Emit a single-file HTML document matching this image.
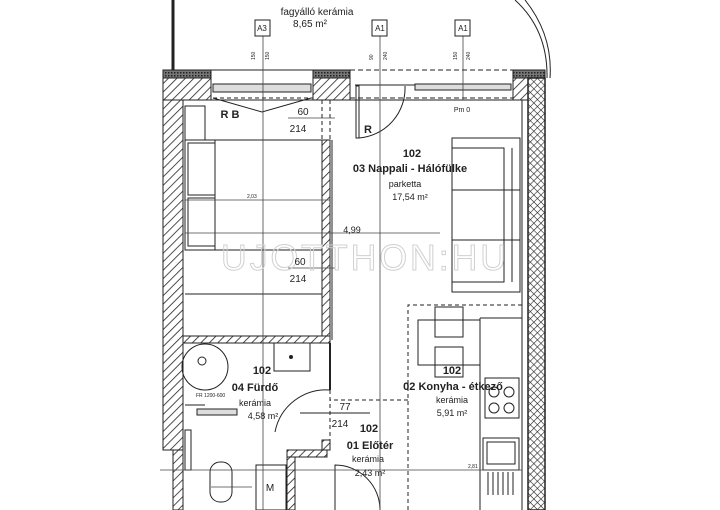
<!DOCTYPE html>
<html><head><meta charset="utf-8"><style>
html,body{margin:0;padding:0;background:#fff;width:720px;height:510px;overflow:hidden}
svg{display:block}
text{font-family:"Liberation Sans",sans-serif;fill:#222}
</style></head><body>
<svg width="720" height="510" viewBox="0 0 720 510" xmlns="http://www.w3.org/2000/svg">
<defs>
<pattern id="h" width="6" height="6" patternUnits="userSpaceOnUse" patternTransform="rotate(45)">
<rect width="6" height="6" fill="#fff"/><line x1="0" y1="0" x2="0" y2="6" stroke="#222" stroke-width="1.6"/></pattern>
<pattern id="x" width="5" height="5" patternUnits="userSpaceOnUse" patternTransform="rotate(45)">
<rect width="5" height="5" fill="#fff"/><line x1="0" y1="0" x2="0" y2="5" stroke="#222" stroke-width="1.2"/><line x1="0" y1="0" x2="5" y2="0" stroke="#222" stroke-width="1.2"/></pattern>
<pattern id="s" width="3" height="3" patternUnits="userSpaceOnUse"><rect width="3" height="3" fill="#777"/><rect width="1.5" height="1.5" fill="#222"/></pattern>
</defs>
<g stroke="#222" fill="none" stroke-width="1">
<line x1="173" y1="0" x2="173" y2="72" stroke-width="3"/>
<path d="M515 0 Q548 30 547 78"/>
<path d="M525 0 Q553 35 550 78"/>
<rect x="163" y="70" width="48" height="8" fill="url(#s)"/>
<rect x="163" y="78" width="48" height="22" fill="url(#h)"/>
<rect x="313" y="70" width="37" height="8" fill="url(#s)"/>
<rect x="313" y="78" width="37" height="22" fill="url(#h)"/>
<rect x="513" y="70" width="32" height="8" fill="url(#s)"/>
<rect x="513" y="78" width="15" height="22" fill="url(#h)"/>
<line x1="211" y1="70" x2="313" y2="70"/>
<rect x="213" y="84" width="98" height="8" fill="#ddd"/>
<line x1="213" y1="98" x2="313" y2="98" stroke-dasharray="4,3"/>
<path d="M213 98 L262 112 L311 98"/>
<line x1="350" y1="70" x2="513" y2="70" stroke-dasharray="5,3"/>
<line x1="350" y1="98" x2="513" y2="98" stroke-dasharray="5,3"/>
<rect x="415" y="84" width="96" height="6" fill="#ddd"/>
<line x1="355" y1="85" x2="415" y2="85"/>
<rect x="356" y="86" width="3" height="52"/>
<path d="M359 138 A50 50 0 0 0 405 86"/>
<rect x="528" y="78" width="17" height="432" fill="url(#x)" stroke-width="1.5"/>
<line x1="522" y1="100" x2="522" y2="510"/>
<rect x="163" y="100" width="20" height="350" fill="url(#h)"/>
<rect x="173" y="450" width="10" height="60" fill="url(#h)"/>
<line x1="183" y1="100" x2="522" y2="100"/>
<rect x="185" y="106" width="20" height="34"/>
<rect x="185" y="140" width="140" height="110"/>
<rect x="188" y="143" width="27" height="52"/>
<rect x="188" y="198" width="27" height="48"/>
<line x1="215" y1="140" x2="215" y2="250"/>
<line x1="185" y1="294" x2="322" y2="294"/>
<rect x="322" y="140" width="8" height="200" fill="url(#h)"/>
<line x1="322" y1="100" x2="322" y2="140" stroke-dasharray="4,3"/>
<line x1="330" y1="100" x2="330" y2="140" stroke-dasharray="4,3"/>
<rect x="183" y="336" width="147" height="7" fill="url(#h)"/>
<line x1="332" y1="140" x2="332" y2="340"/>
<circle cx="205" cy="367" r="23"/>
<circle cx="202" cy="361" r="4"/>
<line x1="185" y1="405" x2="205" y2="405"/>
<rect x="274" y="343" width="36" height="28"/>
<circle cx="291" cy="357" r="1.5" fill="#222"/>
<rect x="197" y="409" width="40" height="6" fill="#ddd"/>
<rect x="185" y="430" width="6" height="40"/>
<rect x="210" y="462" width="22" height="40" rx="10"/>
<rect x="256" y="465" width="30" height="45"/>
<line x1="330" y1="343" x2="330" y2="390" stroke-width="2"/>
<path d="M275 432 A52 52 0 0 1 330 390"/>
<rect x="322" y="440" width="8" height="10" fill="url(#h)"/>
<line x1="330" y1="390" x2="330" y2="440" stroke-dasharray="4,3"/>
<line x1="300" y1="413" x2="370" y2="413"/>
<rect x="287" y="450" width="40" height="7" fill="url(#h)"/>
<rect x="287" y="457" width="8" height="53" fill="url(#h)"/>
<path d="M335 510 L335 465 A45 45 0 0 1 380 510"/>
<rect x="452" y="138" width="68" height="154"/>
<rect x="452" y="148" width="52" height="134"/>
<line x1="504" y1="148" x2="504" y2="282"/>
<line x1="512" y1="148" x2="512" y2="282"/>
<line x1="452" y1="190" x2="520" y2="190"/>
<line x1="452" y1="240" x2="520" y2="240"/>
<path d="M408 510 L408 305 L522 305" stroke-dasharray="4,3"/>
<line x1="408" y1="400" x2="330" y2="400" stroke-dasharray="4,3"/>
<rect x="418" y="320" width="62" height="45"/>
<rect x="435" y="307" width="28" height="30"/>
<rect x="435" y="347" width="28" height="30"/>
<line x1="480" y1="318" x2="480" y2="510"/>
<line x1="480" y1="318" x2="522" y2="318"/>
<rect x="485" y="378" width="34" height="40"/>
<circle cx="494" cy="392" r="5"/><circle cx="509" cy="392" r="5"/>
<circle cx="494" cy="408" r="5"/><circle cx="509" cy="408" r="5"/>
<rect x="483" y="438" width="36" height="32"/>
<rect x="487" y="442" width="28" height="22"/>
<g><line x1="488" y1="472" x2="488" y2="495"/><line x1="493" y1="472" x2="493" y2="495"/><line x1="498" y1="472" x2="498" y2="495"/><line x1="503" y1="472" x2="503" y2="495"/><line x1="508" y1="472" x2="508" y2="495"/><line x1="513" y1="472" x2="513" y2="495"/></g>
<g stroke="#444" stroke-width="0.8">
<line x1="263" y1="35" x2="263" y2="510"/>
<line x1="380" y1="35" x2="380" y2="510"/>
<line x1="463" y1="35" x2="463" y2="100"/>
<line x1="185" y1="200" x2="330" y2="200"/>
<line x1="185" y1="233" x2="440" y2="233"/>
<line x1="160" y1="470" x2="522" y2="470"/>
<line x1="211" y1="487" x2="252" y2="487"/>
<line x1="288" y1="118" x2="335" y2="118"/>
<line x1="288" y1="268" x2="335" y2="268"/>
</g>
<rect x="255" y="20" width="15" height="16" fill="#fff"/>
<rect x="372" y="20" width="15" height="16" fill="#fff"/>
<rect x="455" y="20" width="15" height="16" fill="#fff"/>
</g>
<g font-size="8" text-anchor="middle">
<text x="262" y="31">A3</text><text x="380" y="31">A1</text><text x="463" y="31">A1</text>
<text x="462" y="112" font-size="7">Pm 0</text>
</g>
<g font-size="5" fill="#333">
<text x="255" y="60" transform="rotate(-90 255 60)">150</text>
<text x="269" y="60" transform="rotate(-90 269 60)">150</text>
<text x="373" y="60" transform="rotate(-90 373 60)">90</text>
<text x="387" y="60" transform="rotate(-90 387 60)">240</text>
<text x="457" y="60" transform="rotate(-90 457 60)">150</text>
<text x="470" y="60" transform="rotate(-90 470 60)">240</text>
<text x="247" y="198">2,03</text>
<text x="468" y="468">2,81</text>
<text x="196" y="397" font-size="5">FR 1200-600</text>
</g>
<g text-anchor="middle">
<text x="365" y="270" font-size="36" style="fill:none;stroke:#d0d0d0;stroke-width:1" letter-spacing="3" textLength="288" lengthAdjust="spacingAndGlyphs">UJOTTHON:HU</text>
<text x="317" y="15" font-size="10">fagyálló kerámia</text>
<text x="310" y="27" font-size="10">8,65 m²</text>
<text x="230" y="118" font-size="11" font-weight="bold">R B</text>
<text x="303" y="115" font-size="10">60</text>
<text x="298" y="132" font-size="10">214</text>
<text x="368" y="133" font-size="11" font-weight="bold">R</text>
<text x="412" y="157" font-size="11" font-weight="bold">102</text>
<text x="410" y="172" font-size="11" font-weight="bold">03 Nappali - Hálófülke</text>
<text x="405" y="187" font-size="9">parketta</text>
<text x="410" y="200" font-size="9">17,54 m²</text>
<text x="352" y="233" font-size="9">4,99</text>
<text x="300" y="265" font-size="10">60</text>
<text x="298" y="282" font-size="10">214</text>
<text x="452" y="374" font-size="11" font-weight="bold">102</text>
<text x="453" y="390" font-size="11" font-weight="bold">02 Konyha - étkező</text>
<text x="452" y="403" font-size="9">kerámia</text>
<text x="452" y="416" font-size="9">5,91 m²</text>
<text x="262" y="374" font-size="11" font-weight="bold">102</text>
<text x="255" y="391" font-size="11" font-weight="bold">04 Fürdő</text>
<text x="255" y="406" font-size="9">kerámia</text>
<text x="263" y="419" font-size="9">4,58 m²</text>
<text x="345" y="410" font-size="10">77</text>
<text x="340" y="427" font-size="10">214</text>
<text x="369" y="432" font-size="11" font-weight="bold">102</text>
<text x="370" y="449" font-size="11" font-weight="bold">01 Előtér</text>
<text x="368" y="462" font-size="9">kerámia</text>
<text x="370" y="476" font-size="9">2,43 m²</text>
<text x="270" y="491" font-size="10">M</text>
</g>
</svg>
</body></html>
